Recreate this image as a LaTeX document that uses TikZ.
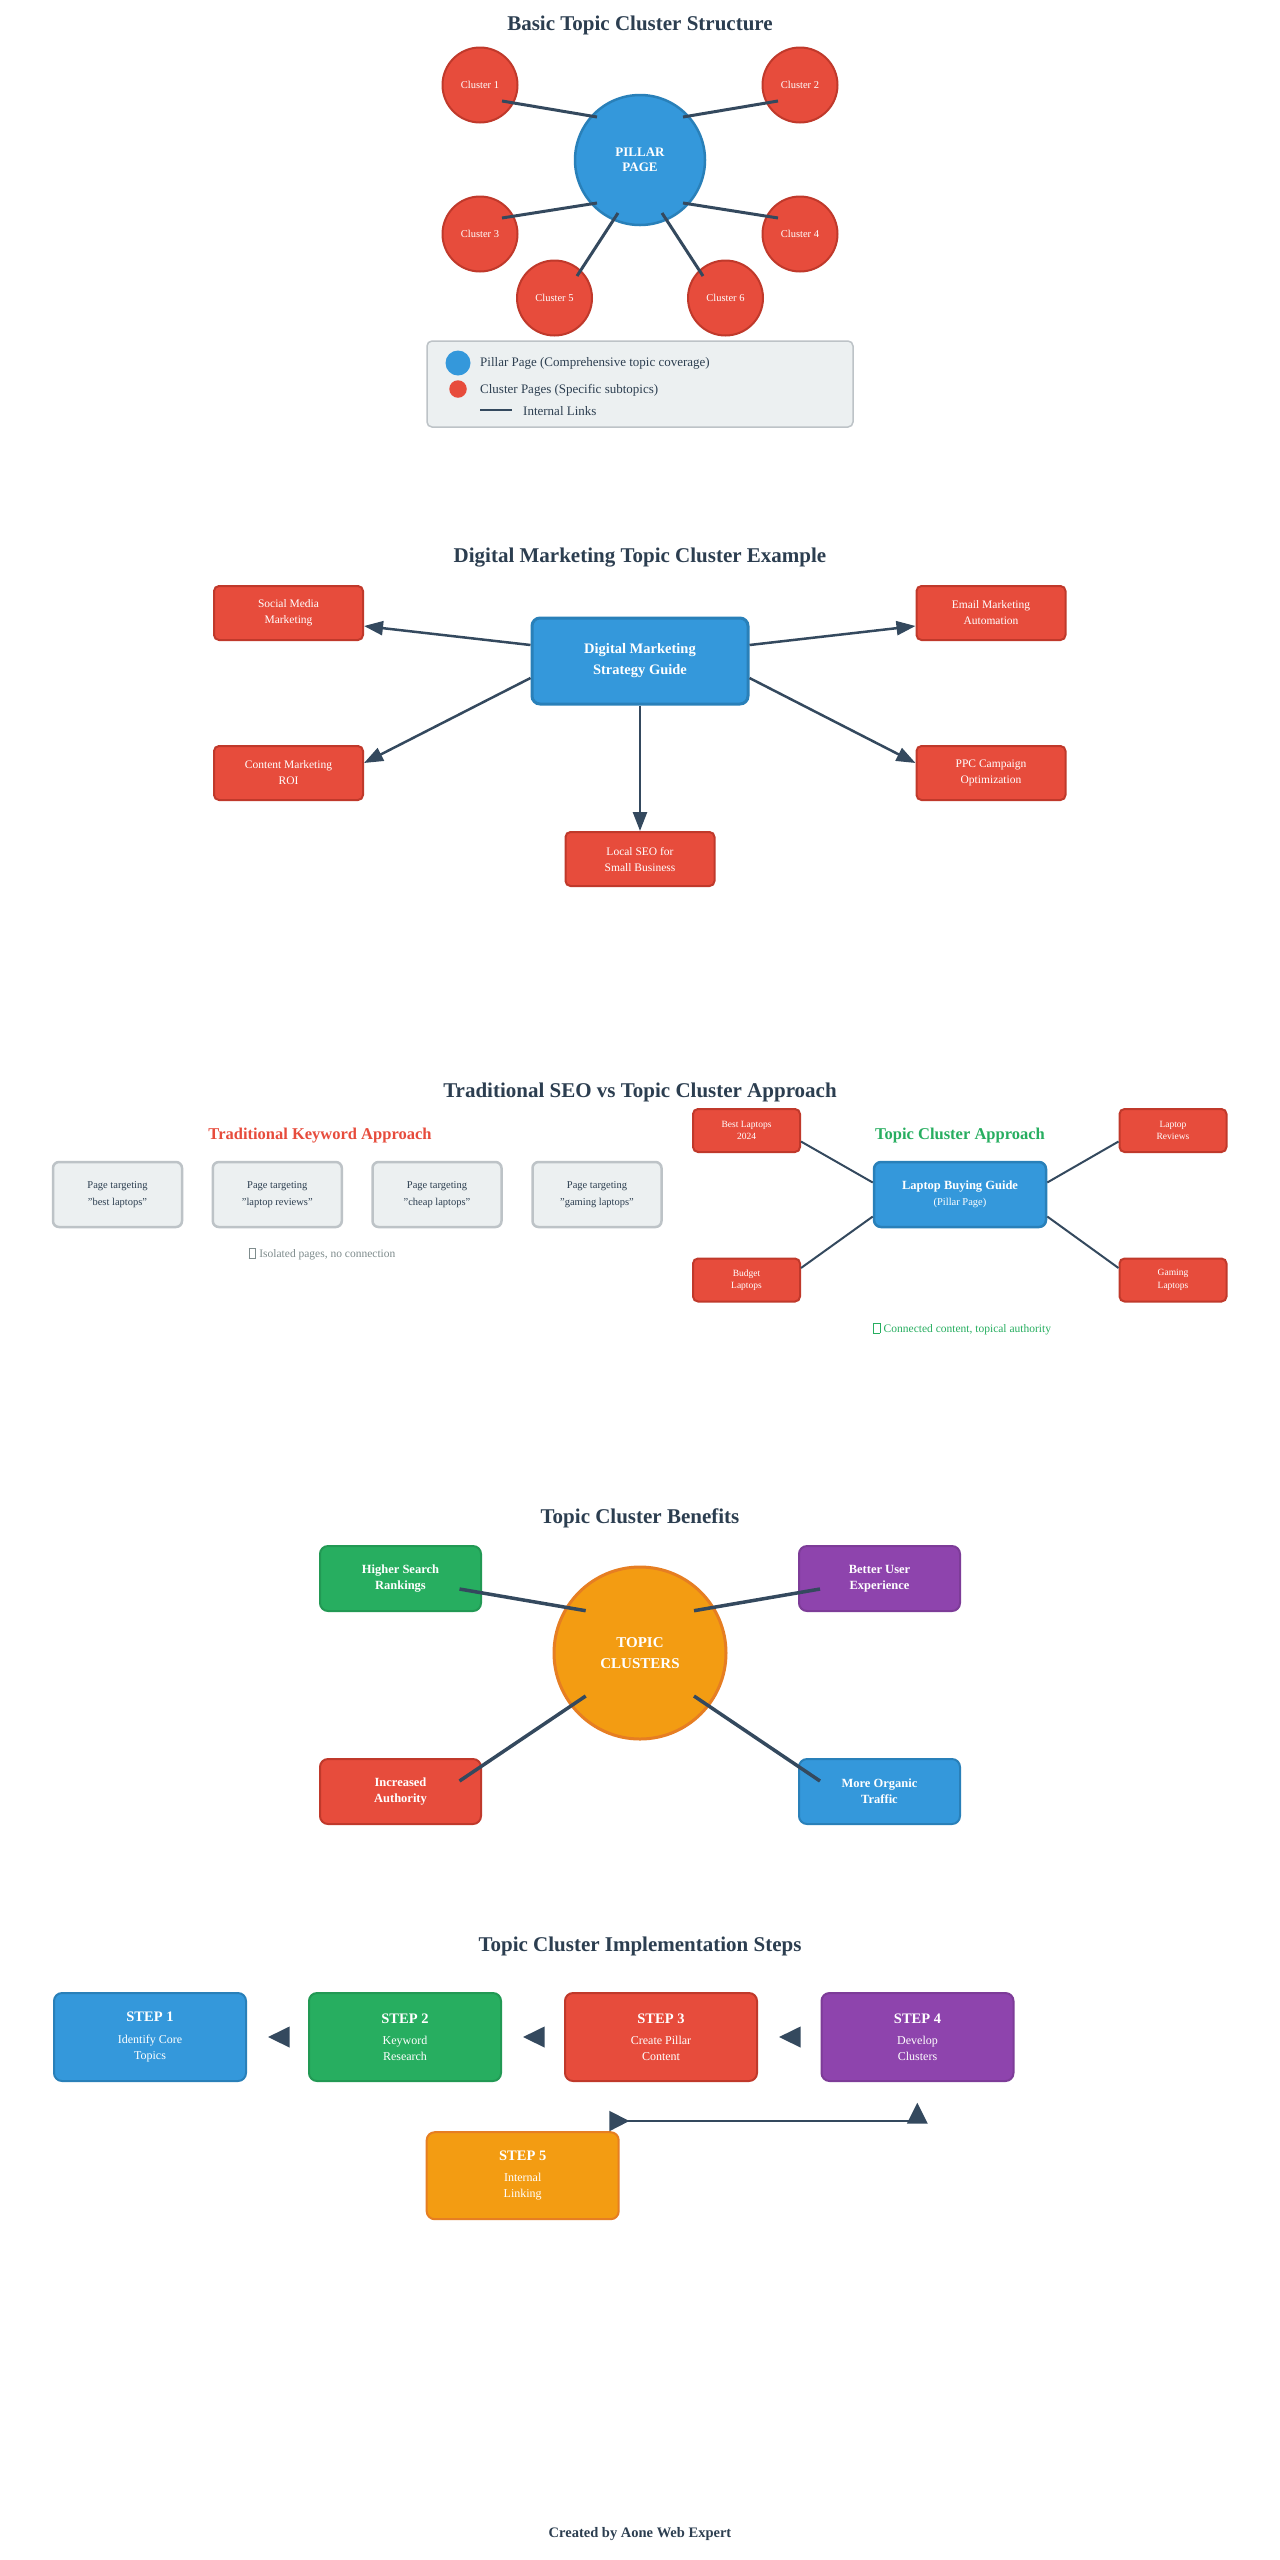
\documentclass[tikz,border=0pt]{standalone}
\usepackage{fontspec}
\setmainfont{Liberation Serif}
\usetikzlibrary{arrows.meta,calc}
\definecolor{dark}{HTML}{2C3E50}
\definecolor{linkc}{HTML}{34495E}
\definecolor{cblue}{HTML}{3498DB}
\definecolor{cblueD}{HTML}{2980B9}
\definecolor{cred}{HTML}{E74C3C}
\definecolor{credD}{HTML}{C0392B}
\definecolor{cgreen}{HTML}{27AE60}
\definecolor{cgreenD}{HTML}{229954}
\definecolor{cpurple}{HTML}{8E44AD}
\definecolor{cpurpleD}{HTML}{7D3C98}
\definecolor{corange}{HTML}{F39C12}
\definecolor{corangeD}{HTML}{E67E22}
\definecolor{cgray}{HTML}{ECF0F1}
\definecolor{cgrayD}{HTML}{BDC3C7}
\definecolor{cgrayT}{HTML}{7F8C8D}
\newcommand{\fsz}[2]{\fontsize{#1}{#2}\selectfont}
\newcommand{\tofu}{{\fboxsep=0pt\fboxrule=0.5pt\fbox{\rule{0pt}{0.8em}\hspace{0.55em}}}\hspace{0.3em}}
\begin{document}
\begin{tikzpicture}[x=1pt,y=-1pt,
  title/.style={font=\fsz{21}{25}\bfseries, text=dark, inner sep=0},
  subtitle/.style={font=\fsz{16.5}{20}\bfseries, inner sep=0},
  pillar/.style={circle, fill=cblue, draw=cblueD, line width=2.5, minimum size=130, inner sep=0, text=white, align=center, font=\fsz{13}{15.5}\bfseries},
  clus/.style={circle, fill=cred, draw=credD, line width=2, minimum size=75, inner sep=0, text=white, font=\fsz{10.5}{12}},
  link1/.style={draw=linkc, line width=3},
  legtext/.style={font=\fsz{13}{15}, text=dark, inner sep=0, anchor=west},
  bbox/.style={rectangle, rounded corners=#1, align=center, inner sep=0},
  redbox/.style={bbox=5, fill=cred, draw=credD, line width=2, text=white, minimum width=149, minimum height=54, font=\fsz{11.5}{16}},
  arr2/.style={draw=linkc, line width=2.5, -{Triangle[length=19, width=14]}},
  graybox/.style={bbox=6, fill=cgray, draw=cgrayD, line width=2.5, text=dark, minimum width=129, minimum height=65, font=\fsz{10.5}{17}},
  smallred/.style={bbox=5, fill=cred, draw=credD, line width=2, text=white, minimum width=107, minimum height=43, font=\fsz{9.5}{12.5}},
  link3/.style={draw=linkc, line width=2},
  benbox/.style={bbox=8, line width=2, text=white, minimum width=161, minimum height=65, font=\fsz{12.5}{16}\bfseries},
  link4/.style={draw=linkc, line width=3.5},
  stepbox/.style={bbox=8, line width=2, text=white, minimum width=192, minimum height=88, font=\fsz{12}{16}},
  steparr/.style={draw=linkc, line width=2, shorten <=21.2, shorten >=21, -{Triangle[length=21.6, width=20.6]}},
  link5/.style={draw=linkc, line width=2}
]
\fill[white] (0,0) rectangle (1280,2560);
\useasboundingbox (0,0) rectangle (1280,2560);

% ---------------- Section 1 ----------------
\node[title] (t1) at (640,25) {Basic Topic Cluster Structure};
\node[pillar] (p) at (640,160) {PILLAR\\PAGE};
\node[clus] (c1) at (480,85) {Cluster 1};
\node[clus] (c2) at (800,85) {Cluster 2};
\node[clus] (c3) at (480,234) {Cluster 3};
\node[clus] (c4) at (800,234) {Cluster 4};
\node[clus] (c5) at (554.5,298) {Cluster 5};
\node[clus] (c6) at (725.5,298) {Cluster 6};
\draw[link1] ($(c1)+(22,16)$) -- ($(p)+(-43,-43)$);
\draw[link1] ($(c2)+(-22,16)$) -- ($(p)+(43,-43)$);
\draw[link1] ($(c3)+(22,-16)$) -- ($(p)+(-43,43)$);
\draw[link1] ($(c4)+(-22,-16)$) -- ($(p)+(43,43)$);
\draw[link1] ($(c5)+(22.5,-22)$) -- ($(p)+(-22,53)$);
\draw[link1] ($(c6)+(-22.5,-22)$) -- ($(p)+(22,53)$);

\node[bbox=5, fill=cgray, draw=cgrayD, line width=1.5, minimum width=426, minimum height=86] (lg) at (640,384) {};
\node[circle, fill=cblue, minimum size=25, inner sep=0] (lgp) at (458,363) {};
\node[legtext] (lgpt) at (480,363) {Pillar Page (Comprehensive topic coverage)};
\node[circle, fill=cred, minimum size=17.5, inner sep=0] (lgc) at (458,389) {};
\node[legtext] (lgct) at (480,390) {Cluster Pages (Specific subtopics)};
\coordinate (lgl1) at (480,410);
\coordinate (lgl2) at (512,410);
\draw[draw=linkc, line width=2.5] (lgl1) -- (lgl2);
\node[legtext] (lglt) at (523,411) {Internal Links};

% ---------------- Section 2 ----------------
\node[title] (t2) at (640,558) {Digital Marketing Topic Cluster Example};
\node[bbox=8, fill=cblue, draw=cblueD, line width=3, text=white, minimum width=216, minimum height=86, font=\fsz{14.5}{21}\bfseries] (dm) at (640,661) {Digital Marketing\\Strategy Guide};
\node[redbox] (sm) at (288.5,613) {Social Media\\Marketing};
\node[redbox] (em) at (991,613) {Email Marketing\\Automation};
\node[redbox] (cm) at (288.5,773) {Content Marketing\\ROI};
\node[redbox] (ppc) at (991,773) {PPC Campaign\\Optimization};
\node[redbox] (ls) at (640,859) {Local SEO for\\Small Business};
\draw[arr2] ($(dm.west)+(0,-16)$) -- ($(sm.east)+(0,13)$);
\draw[arr2] ($(dm.east)+(0,-16)$) -- ($(em.west)+(0,13)$);
\draw[arr2] ($(dm.west)+(0,17)$) -- ($(cm.east)+(0,-10)$);
\draw[arr2] ($(dm.east)+(0,17)$) -- ($(ppc.west)+(0,-10)$);
\draw[arr2] (dm.south) -- (ls.north);

% ---------------- Section 3 ----------------
\node[title] (t3) at (640,1092) {Traditional SEO vs Topic Cluster Approach};
\node[subtitle, text=cred] (t3a) at (320,1136) {Traditional Keyword Approach};
\node[graybox] (g1) at (117.5,1194.5) {Page targeting\\"best laptops"};
\node[graybox] (g2) at (277.3,1194.5) {Page targeting\\"laptop reviews"};
\node[graybox] (g3) at (437,1194.5) {Page targeting\\"cheap laptops"};
\node[graybox] (g4) at (597,1194.5) {Page targeting\\"gaming laptops"};
\node[font=\fsz{11.5}{14}, text=cgrayT, inner sep=0] (iso) at (322,1254) {\tofu Isolated pages, no connection};

\node[subtitle, text=cgreen] (t3b) at (960,1136) {Topic Cluster Approach};
\node[bbox=7, fill=cblue, draw=cblueD, line width=2.5, text=white, minimum width=172, minimum height=65, font=\fsz{10.5}{16.5}] (lb) at (960,1194.5) {{\fsz{12.5}{15}\bfseries Laptop Buying Guide}\\(Pillar Page)};
\node[smallred] (bl) at (746.5,1130.5) {Best Laptops\\2024};
\node[smallred] (lr) at (1173,1130.5) {Laptop\\Reviews};
\node[smallred] (bg) at (746.5,1280) {Budget\\Laptops};
\node[smallred] (gl) at (1173,1280) {Gaming\\Laptops};
\draw[link3] ($(bl.east)+(0,11)$) -- ($(lb.west)+(0,-12)$);
\draw[link3] ($(lr.west)+(0,11)$) -- ($(lb.east)+(0,-12)$);
\draw[link3] ($(bg.east)+(0,-12)$) -- ($(lb.west)+(0,22)$);
\draw[link3] ($(gl.west)+(0,-12)$) -- ($(lb.east)+(0,22)$);
\node[font=\fsz{11.5}{14}, text=cgreen, inner sep=0] (con) at (962,1329) {\tofu Connected content, topical authority};

% ---------------- Section 4 ----------------
\node[title] (t4) at (640,1518) {Topic Cluster Benefits};
\node[circle, fill=corange, draw=corangeD, line width=3, minimum size=172, inner sep=0, text=white, align=center, font=\fsz{15}{21.5}\bfseries] (tc) at (640,1653) {TOPIC\\CLUSTERS};
\node[benbox, fill=cgreen, draw=cgreenD] (hs) at (400.5,1578.5) {Higher Search\\Rankings};
\node[benbox, fill=cpurple, draw=cpurpleD] (bu) at (879.5,1578.5) {Better User\\Experience};
\node[benbox, fill=cred, draw=credD] (ia) at (400.5,1791.5) {Increased\\Authority};
\node[benbox, fill=cblue, draw=cblueD] (mo) at (879.5,1791.5) {More Organic\\Traffic};
\draw[link4] ($(hs)+(59,10.5)$) -- ($(tc)+(-54.3,-42.3)$);
\draw[link4] ($(bu)+(-59.5,10.5)$) -- ($(tc)+(54,-42.3)$);
\draw[link4] ($(ia)+(59,-10.5)$) -- ($(tc)+(-54.3,43)$);
\draw[link4] ($(mo)+(-59.5,-10.5)$) -- ($(tc)+(54,43)$);

% ---------------- Section 5 ----------------
\node[title] (t5) at (640,1946) {Topic Cluster Implementation Steps};
\node[stepbox, fill=cblue, draw=cblueD] (s1) at (150,2037) {{\fsz{14.5}{16}\bfseries STEP 1}\\[5.5pt]Identify Core\\Topics};
\node[stepbox, fill=cgreen, draw=cgreenD] (s2) at (405,2037) {{\fsz{14.5}{16}\bfseries STEP 2}\\[5.5pt]Keyword\\Research};
\node[stepbox, fill=cred, draw=credD] (s3) at (661,2037) {{\fsz{14.5}{16}\bfseries STEP 3}\\[5.5pt]Create Pillar\\Content};
\node[stepbox, fill=cpurple, draw=cpurpleD] (s4) at (917.5,2037) {{\fsz{14.5}{16}\bfseries STEP 4}\\[5.5pt]Develop\\Clusters};
\node[stepbox, fill=corange, draw=corangeD, minimum height=87] (s5) at (522.7,2175.7) {{\fsz{14.5}{16}\bfseries STEP 5}\\[5.5pt]Internal\\Linking};
\draw[steparr] (s2.west) -- (s1.east);
\draw[steparr] (s3.west) -- (s2.east);
\draw[steparr] (s4.west) -- (s3.east);
\coordinate (l5a) at ($(s5.north east)+(-10.4,-10.2)$);
\coordinate (l5b) at ($(s4.south)+(-0.2,20.7)$);
\draw[link5, {Triangle[reversed, length=20, width=20]}-{Triangle[length=21, width=20.5]}] (l5a) -| (l5b);

% ---------------- Footer ----------------
\node[font=\fsz{14.5}{17}\bfseries, text=dark, inner sep=0] (ft) at (640,2534) {Created by Aone Web Expert};
\end{tikzpicture}
\end{document}
